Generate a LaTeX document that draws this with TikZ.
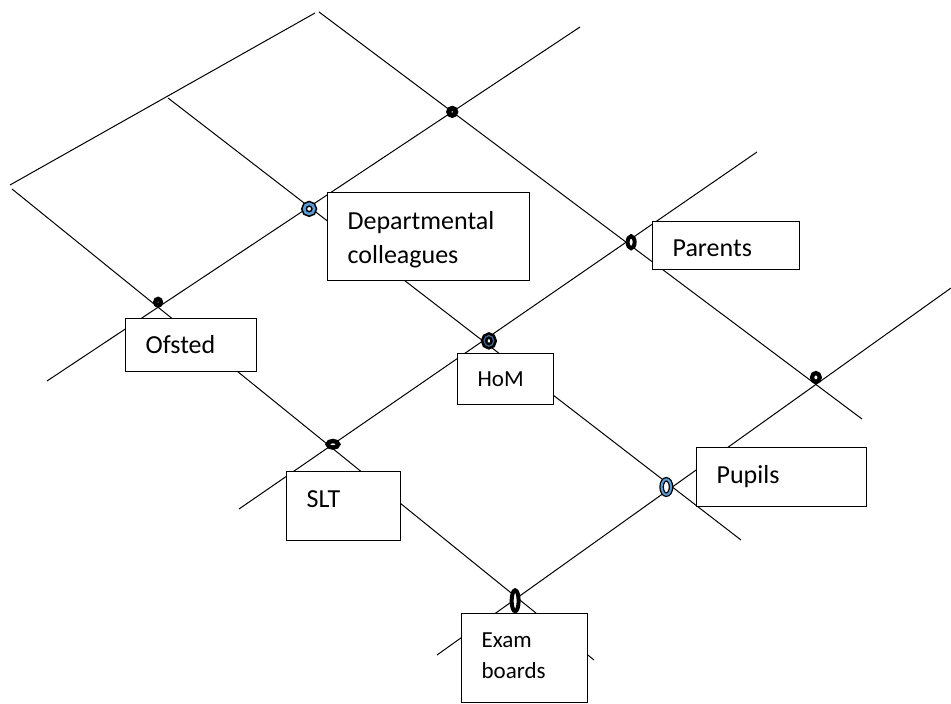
\documentclass[tikz,border=0pt]{standalone}
\usepackage{fontspec}
\setmainfont{Carlito}
\usetikzlibrary{shapes.geometric}
\definecolor{ringblue}{HTML}{5B9BD5}
\begin{document}
\begin{tikzpicture}[x=1pt,y=-1pt]
\tikzstyle{edge}=[line width=1pt]
\tikzstyle{knot}=[ellipse,draw,fill=white,line width=4.4pt,inner sep=0pt]
\tikzstyle{blueknot}=[ellipse,draw,fill=white,line width=1.6pt,double=ringblue,double distance=2.6pt,inner sep=0pt]
\tikzstyle{box}=[draw,fill=white,line width=1.2pt,anchor=north west,align=left,inner xsep=20pt,inner ysep=0pt,font=\fontsize{26}{34}\selectfont]
\useasboundingbox (0,0) rectangle (951,704);
\coordinate (u1a) at (10,185);
\coordinate (u1b) at (315,13);
\coordinate (u2a) at (47,381);
\coordinate (u2b) at (580,27);
\coordinate (u3a) at (239,509);
\coordinate (u3b) at (757,152);
\coordinate (u4a) at (437,655);
\coordinate (u4b) at (951,288);
\coordinate (m1a) at (12,189);
\coordinate (m1b) at (594,660);
\coordinate (m2a) at (168,98);
\coordinate (m2b) at (741,540);
\coordinate (m3a) at (319,12);
\coordinate (m3b) at (862,419);
\draw[edge] (u1a) -- (u1b);
\draw[edge] (u2a) -- (u2b);
\draw[edge] (u3a) -- (u3b);
\draw[edge] (u4a) -- (u4b);
\draw[edge] (m1a) -- (m1b);
\draw[edge] (m2a) -- (m2b);
\draw[edge] (m3a) -- (m3b);
\node[box,text width=162pt,text height=37pt,text depth=51pt] (dep) at (327,192) {Departmental\\colleagues};
\node[box,text width=107pt,text height=35pt,text depth=13pt] (parents) at (652,221) {Parents};
\node[box,text width=91pt,text height=35pt,text depth=18pt] (ofsted) at (125,318) {Ofsted};
\node[box,text width=56pt,text height=33pt,text depth=18pt,font=\fontsize{23}{31}\selectfont] (hom) at (457,353) {HoM};
\node[box,text width=130pt,text height=36pt,text depth=23pt] (pupils) at (696,447) {Pupils};
\node[box,text width=74pt,text height=36pt,text depth=33pt] (slt) at (286,471) {SLT};
\node[box,text width=86pt,text height=34pt,text depth=55pt,font=\fontsize{23}{31}\selectfont] (exam) at (461,613) {Exam\\boards};
\node[knot,line width=5pt,minimum size=7pt] (ktop) at (intersection of u2a--u2b and m3a--m3b) {};
\node[knot,minimum width=5.6pt,minimum height=6.6pt,yshift=5pt] (kofsted) at (intersection of u2a--u2b and m1a--m1b) {};
\node[blueknot,minimum size=10.2pt,yshift=-2pt] (kdep) at (intersection of u2a--u2b and m2a--m2b) {};
\node[knot,line width=4pt,minimum width=7pt,minimum height=12pt,xshift=5pt] (kparents) at (intersection of u3a--u3b and m3a--m3b) {};
\node[knot,minimum width=10.6pt,minimum height=6.6pt,xshift=3pt,yshift=2pt] (kslt) at (intersection of u3a--u3b and m1a--m1b) {};
\node[blueknot,line width=2.6pt,double={ringblue!70!black},double distance=1.2pt,minimum width=9.6pt,minimum height=10.6pt,xshift=6pt] (khom) at (intersection of u3a--u3b and m2a--m2b) {};
\node[knot,line width=4.2pt,minimum width=7.8pt,minimum height=8.8pt,yshift=7pt] (kright) at (intersection of u4a--u4b and m3a--m3b) {};
\node[blueknot,line width=1.3pt,double distance=2pt,minimum width=9.4pt,minimum height=15.4pt,xshift=-6pt] (kpupils) at (intersection of u4a--u4b and m2a--m2b) {};
\node[knot,line width=4pt,minimum width=7pt,minimum height=21pt,xshift=-2pt,yshift=-3pt] (kexam) at (intersection of u4a--u4b and m1a--m1b) {};
\end{tikzpicture}
\end{document}
